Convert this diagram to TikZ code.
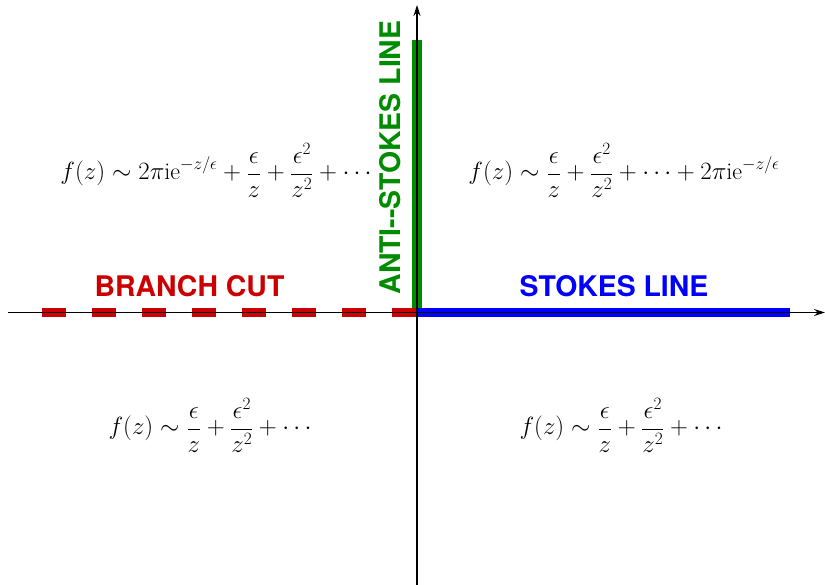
\documentclass[tikz,border=0pt]{standalone}
\usepackage{fontspec}
\newfontfamily\hv{TeX Gyre Heros}
\usetikzlibrary{arrows.meta}
\definecolor{cgreen}{RGB}{0,140,0}
\definecolor{cred}{RGB}{204,0,0}
\definecolor{cblue}{RGB}{0,0,255}
\tikzset{
  axis/.style={line width=1.2pt, draw=black, -{Stealth[length=11pt,width=7pt]}},
  band/.style={line width=9.5pt},
  lbl/.style={inner sep=0pt, font=\hv\bfseries\fontsize{28.4}{30}\selectfont},
  formula/.style={inner sep=0pt, font=\fontsize{24}{28}\selectfont}
}
\begin{document}
\begin{tikzpicture}[x=1pt,y=-1pt]
\useasboundingbox (0,0) rectangle (825,585);
% coordinates
\coordinate (O) at (417,312.5);
\coordinate (xl) at (8,312.5);
\coordinate (xr) at (825,312.5);
\coordinate (yb) at (417,585);
\coordinate (yt) at (417,5);
\coordinate (gtop) at (417,40);
\coordinate (bend) at (790,312.5);
\coordinate (rstart) at (42,312.5);
% coloured lines
\draw[band, cgreen] (gtop) -- (O);
\draw[band, cblue] (O) -- (bend);
\draw[band, cred, dash pattern=on 24pt off 26pt] (rstart) -- (O);
% axes
\draw[axis] (xl) -- (xr);
\draw[axis] (yb) -- (yt);
% labels
\node[lbl, text=cred, anchor=base] (bc) at (189.5,296.5) {BRANCH CUT};
\node[lbl, text=cblue, anchor=base] (sl) at (614,296.5) {STOKES LINE};
\node[lbl, text=cgreen, anchor=base, rotate=90] (asl) at (400.5,157.5) {ANTI--STOKES LINE};
% formulas
\node[formula] (f1) at (216,170) {$\displaystyle f(z)\sim 2\pi\mathrm{i}\mathrm{e}^{-z/\epsilon}+\frac{\epsilon}{z}+\frac{\epsilon^2}{z^2}+\cdots$};
\node[formula] (f2) at (624,170) {$\displaystyle f(z)\sim \frac{\epsilon}{z}+\frac{\epsilon^2}{z^2}+\cdots+2\pi\mathrm{i}\mathrm{e}^{-z/\epsilon}$};
\node[formula] (f3) at (210,425) {$\displaystyle f(z)\sim \frac{\epsilon}{z}+\frac{\epsilon^2}{z^2}+\cdots$};
\node[formula] (f4) at (621,425) {$\displaystyle f(z)\sim \frac{\epsilon}{z}+\frac{\epsilon^2}{z^2}+\cdots$};
\end{tikzpicture}
\end{document}
